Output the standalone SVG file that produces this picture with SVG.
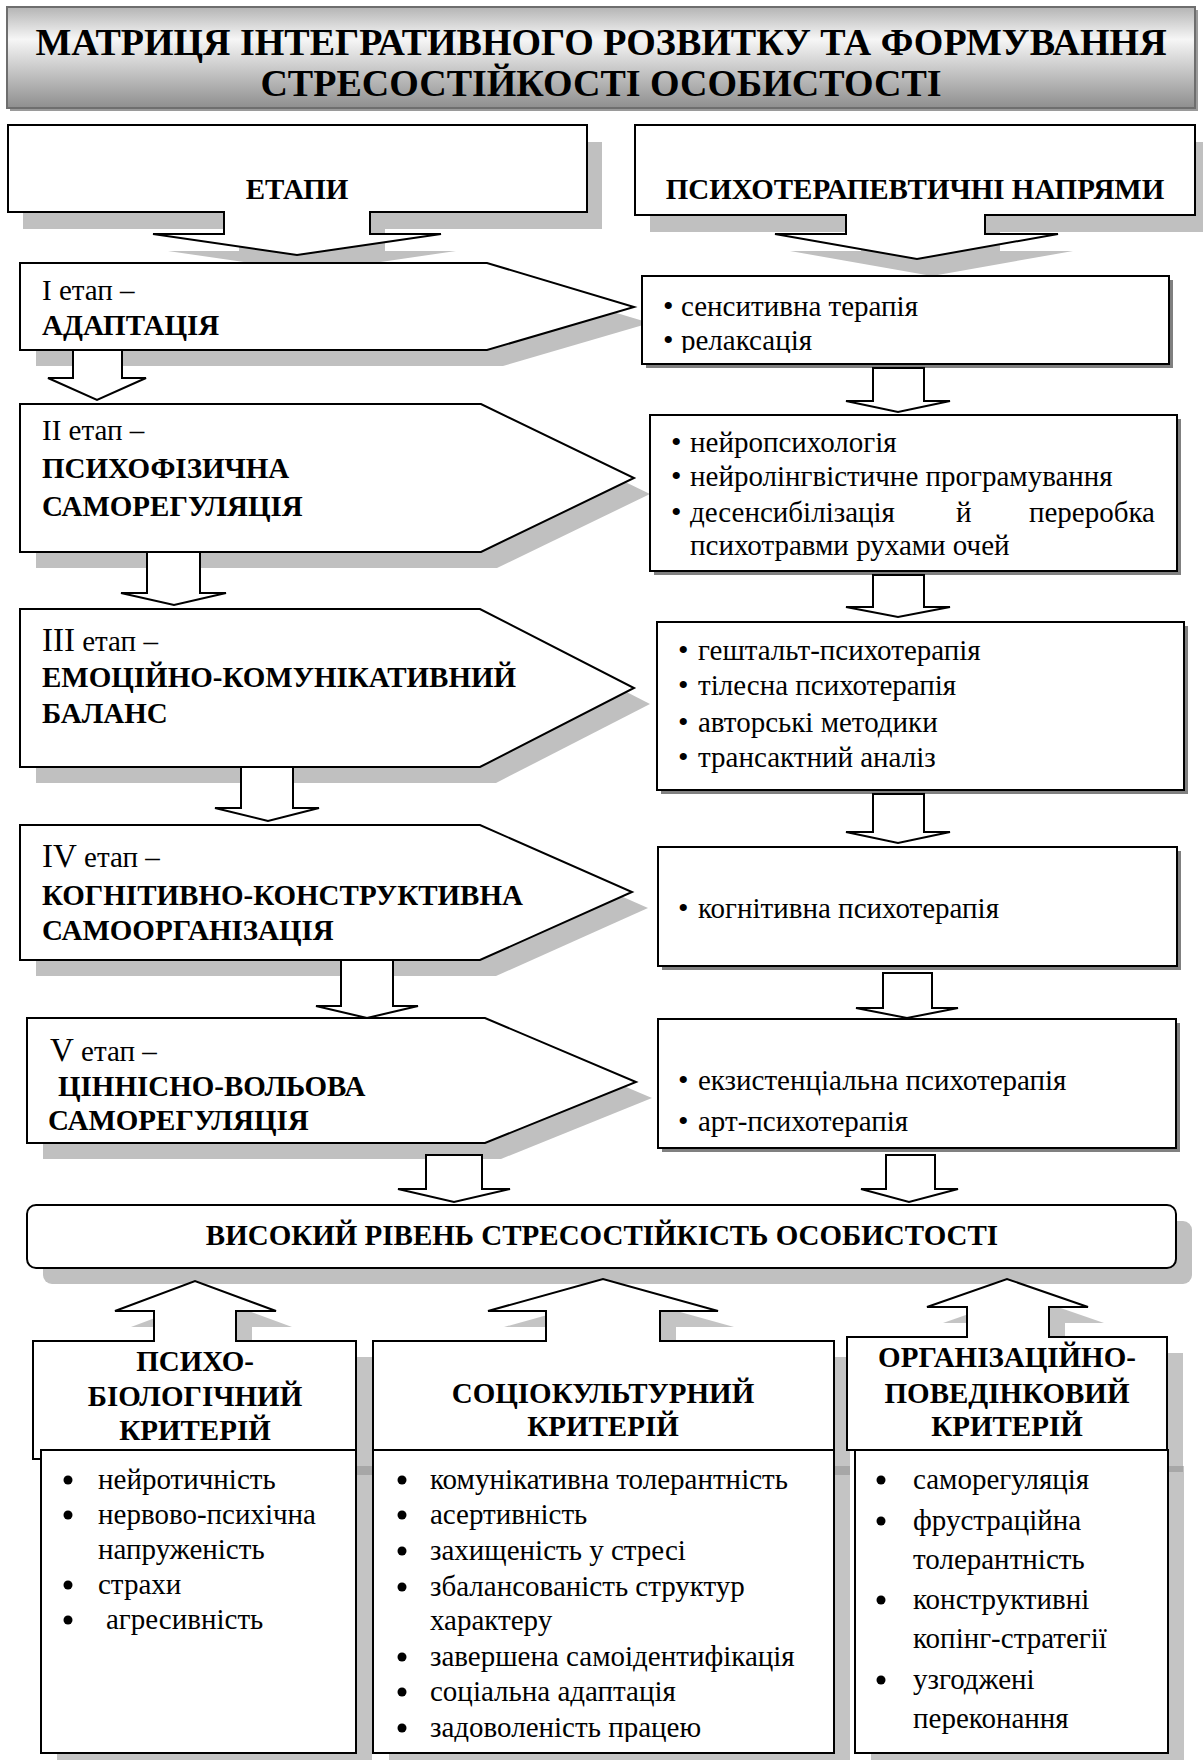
<svg xmlns="http://www.w3.org/2000/svg" width="1203" height="1760" viewBox="0 0 1203 1760">
<defs>
<style>
.sh{fill:#c0c0c0}
.shc{fill:#8a8a8a;opacity:0.5}
.sd{fill:#808080}
.w{fill:#fff;stroke:#000;stroke-width:2;stroke-linejoin:miter}
.t{font-family:"Liberation Serif","Times New Roman",serif;font-size:29px;fill:#000}
.b{font-weight:bold}
.m{text-anchor:middle}
.e{text-anchor:end}
.bl{font-family:"Liberation Serif","Times New Roman",serif;font-size:30px;fill:#000}
.dot{fill:#000}
</style>
<linearGradient id="tg" x1="0" y1="0" x2="0" y2="1">
<stop offset="0" stop-color="#b4b4b4"/>
<stop offset="0.32" stop-color="#f6f6f6"/>
<stop offset="1" stop-color="#8e8e8e"/>
</linearGradient>
<clipPath id="c1"><rect x="642" y="276" width="527" height="77"/></clipPath>
<clipPath id="c2"><rect x="373" y="1450" width="461" height="292"/></clipPath>
</defs>

<!-- Title -->
<g id="title">
<rect x="10" y="10" width="1188" height="101" fill="#9a9a9a"/>
<rect x="7" y="7" width="1188" height="101" fill="url(#tg)" stroke="#6e6e6e" stroke-width="2"/>
<text class="t b m" x="601" y="55" style="font-size:38px">МАТРИЦЯ ІНТЕГРАТИВНОГО РОЗВИТКУ ТА ФОРМУВАННЯ</text>
<text class="t b m" x="601" y="96" style="font-size:38px">СТРЕСОСТІЙКОСТІ ОСОБИСТОСТІ</text>
</g>

<!-- Shadows -->
<g id="shadows">
<path class="sh" transform="translate(15,17)" d="M8,125 H587 V212 H370 V234 H441 L297,255 L153,234 H224 V212 H8 Z"/>
<path class="sh" transform="translate(15,17)" d="M635,125 H1195 V215 H985 V234 H1058 L917,259 L775,234 H846 V215 H635 Z"/>
<path class="sh" transform="translate(16,16)" d="M20,263 H487 L634,307 L487,350 H20 Z"/>
<path class="sh" transform="translate(16,16)" d="M20,404 H481 L634,478 L481,552 H20 Z"/>
<path class="sh" transform="translate(16,16)" d="M20,609 H480 L634,688 L480,767 H20 Z"/>
<path class="sh" transform="translate(16,16)" d="M20,825 H480 L632,892 L480,960 H20 Z"/>
<path class="sh" transform="translate(16,16)" d="M27,1018 H485 L636,1082 L485,1143 H27 Z"/>
<rect class="sd" x="646" y="280" width="527" height="88"/>
<rect class="sd" x="654" y="419" width="527" height="156"/>
<rect class="sd" x="661" y="626" width="527" height="168"/>
<rect class="sd" x="662" y="851" width="519" height="119"/>
<rect class="sd" x="662" y="1023" width="518" height="129"/>
<rect class="sh" x="43" y="1221" width="1149" height="63" rx="9"/>
<path class="shc" transform="translate(16,16)" d="M33,1341 H154 V1311 H115 L195,1281 L276,1311 H236 V1341 H356 V1459 H33 Z"/>
<path class="shc" transform="translate(16,16)" d="M373,1341 H546 V1311 H488 L603,1279 L718,1311 H660 V1341 H834 V1459 H373 Z"/>
<path class="shc" transform="translate(16,16)" d="M847,1337 H967 V1307 H927 L1007,1279 L1088,1307 H1049 V1337 H1167 V1456 H847 Z"/>
<rect class="shc" x="57" y="1466" width="315" height="303"/>
<rect class="shc" x="389" y="1466" width="461" height="303"/>
<rect class="shc" x="871" y="1466" width="313" height="303"/>
</g>

<!-- Connectors (block arrows) -->
<g id="connectors">
<path class="w" d="M73,350 H122 V378 H146 L97,400 L48,378 H73 Z"/>
<path class="w" d="M147,552 H200 V593 H226 L174,605 L121,593 H147 Z"/>
<path class="w" d="M241,767 H293 V808 H319 L268,821 L215,808 H241 Z"/>
<path class="w" d="M341,960 H393 V1006 H418 L367,1018 L316,1006 H341 Z"/>
<path class="w" d="M426,1155 H482 V1189 H510 L454,1202 L398,1189 H426 Z"/>
<path class="w" d="M873,368 H924 V401 H950 L898,412 L846,401 H873 Z"/>
<path class="w" d="M873,575 H924 V607 H950 L898,617 L846,607 H873 Z"/>
<path class="w" d="M873,794 H924 V832 H950 L898,843 L846,832 H873 Z"/>
<path class="w" d="M883,973 H932 V1008 H958 L907,1018 L856,1008 H883 Z"/>
<path class="w" d="M886,1155 H935 V1189 H958 L909,1202 L861,1189 H886 Z"/>
</g>

<!-- Header callouts -->
<g id="etapy">
<path class="w" d="M8,125 H587 V212 H370 V234 H441 L297,255 L153,234 H224 V212 H8 Z"/>
<text class="t b m" x="297" y="199">ЕТАПИ</text>
</g>
<g id="napryamy">
<path class="w" d="M635,125 H1195 V215 H985 V234 H1058 L917,259 L775,234 H846 V215 H635 Z"/>
<text class="t b m" x="915" y="199">ПСИХОТЕРАПЕВТИЧНІ НАПРЯМИ</text>
</g>

<!-- Stages -->
<g id="stage1">
<path class="w" d="M20,263 H487 L634,307 L487,350 H20 Z"/>
<text class="t" x="42" y="300">I етап –</text>
<text class="t b" x="42" y="335">АДАПТАЦІЯ</text>
</g>
<g id="stage2">
<path class="w" d="M20,404 H481 L634,478 L481,552 H20 Z"/>
<text class="t" x="42" y="440">II етап –</text>
<text class="t b" x="42" y="478">ПСИХОФІЗИЧНА</text>
<text class="t b" x="42" y="516">САМОРЕГУЛЯЦІЯ</text>
</g>
<g id="stage3">
<path class="w" d="M20,609 H480 L634,688 L480,767 H20 Z"/>
<text class="t" x="42" y="651"><tspan style="font-size:33px">III</tspan> етап –</text>
<text class="t b" x="42" y="687">ЕМОЦІЙНО-КОМУНІКАТИВНИЙ</text>
<text class="t b" x="42" y="723">БАЛАНС</text>
</g>
<g id="stage4">
<path class="w" d="M20,825 H480 L632,892 L480,960 H20 Z"/>
<text class="t" x="42" y="867"><tspan style="font-size:33px">IV</tspan> етап –</text>
<text class="t b" x="42" y="905">КОГНІТИВНО-КОНСТРУКТИВНА</text>
<text class="t b" x="42" y="940">САМООРГАНІЗАЦІЯ</text>
</g>
<g id="stage5">
<path class="w" d="M27,1018 H485 L636,1082 L485,1143 H27 Z"/>
<text class="t" x="50" y="1061"><tspan style="font-size:33px">V</tspan> етап –</text>
<text class="t b" x="58" y="1096">ЦІННІСНО-ВОЛЬОВА</text>
<text class="t b" x="48" y="1130">САМОРЕГУЛЯЦІЯ</text>
</g>

<!-- Therapy boxes -->
<g id="therapy1">
<rect class="w" x="642" y="276" width="527" height="88"/>
<text class="bl" x="663" y="316">•</text>
<text class="t" x="681" y="316">сенситивна терапія</text>
<g clip-path="url(#c1)">
<text class="bl" x="663" y="350">•</text>
<text class="t" x="681" y="350">релаксація</text>
</g>
</g>
<g id="therapy2">
<rect class="w" x="650" y="415" width="527" height="156"/>
<text class="bl" x="671" y="452">•</text>
<text class="t" x="690" y="452">нейропсихологія</text>
<text class="bl" x="671" y="486">•</text>
<text class="t" x="690" y="486">нейролінгвістичне програмування</text>
<text class="bl" x="671" y="522">•</text>
<text class="t" x="690" y="522">десенсибілізація</text>
<text class="t" x="956" y="522">й</text>
<text class="t e" x="1155" y="522">переробка</text>
<text class="t" x="690" y="555">психотравми рухами очей</text>
</g>
<g id="therapy3">
<rect class="w" x="657" y="622" width="527" height="168"/>
<text class="bl" x="678" y="660">•</text>
<text class="t" x="698" y="660">гештальт-психотерапія</text>
<text class="bl" x="678" y="695">•</text>
<text class="t" x="698" y="695">тілесна психотерапія</text>
<text class="bl" x="678" y="732">•</text>
<text class="t" x="698" y="732">авторські методики</text>
<text class="bl" x="678" y="767">•</text>
<text class="t" x="698" y="767">трансактний аналіз</text>
</g>
<g id="therapy4">
<rect class="w" x="658" y="847" width="519" height="119"/>
<text class="bl" x="678" y="918">•</text>
<text class="t" x="698" y="918">когнітивна психотерапія</text>
</g>
<g id="therapy5">
<rect class="w" x="658" y="1019" width="518" height="129"/>
<text class="bl" x="678" y="1090">•</text>
<text class="t" x="698" y="1090">екзистенціальна психотерапія</text>
<text class="bl" x="678" y="1131">•</text>
<text class="t" x="698" y="1131">арт-психотерапія</text>
</g>

<!-- Result -->
<g id="result">
<rect class="w" x="27" y="1205" width="1149" height="63" rx="9"/>
<text class="t b m" x="602" y="1245">ВИСОКИЙ РІВЕНЬ СТРЕСОСТІЙКІСТЬ ОСОБИСТОСТІ</text>
</g>

<!-- Criteria -->
<g id="crit1">
<path class="w" d="M33,1341 H154 V1311 H115 L195,1281 L276,1311 H236 V1341 H356 V1459 H33 Z"/>
<text class="t b m" x="195" y="1371">ПСИХО-</text>
<text class="t b m" x="195" y="1406">БІОЛОГІЧНИЙ</text>
<text class="t b m" x="195" y="1440">КРИТЕРІЙ</text>
<rect class="w" x="41" y="1450" width="315" height="303"/>
<circle class="dot" cx="68" cy="1480" r="4.5"/><text class="t" x="98" y="1489">нейротичність</text>
<circle class="dot" cx="68" cy="1515" r="4.5"/><text class="t" x="98" y="1524">нервово-психічна</text>
<text class="t" x="98" y="1559">напруженість</text>
<circle class="dot" cx="68" cy="1585" r="4.5"/><text class="t" x="98" y="1594">страхи</text>
<circle class="dot" cx="68" cy="1620" r="4.5"/><text class="t" x="106" y="1629">агресивність</text>
</g>
<g id="crit2">
<path class="w" d="M373,1341 H546 V1311 H488 L603,1279 L718,1311 H660 V1341 H834 V1459 H373 Z"/>
<text class="t b m" x="603" y="1403">СОЦІОКУЛЬТУРНИЙ</text>
<text class="t b m" x="603" y="1436">КРИТЕРІЙ</text>
<rect class="w" x="373" y="1450" width="461" height="303"/>
<circle class="dot" cx="402" cy="1480" r="4.5"/><text class="t" x="430" y="1489">комунікативна толерантність</text>
<circle class="dot" cx="402" cy="1515" r="4.5"/><text class="t" x="430" y="1524">асертивність</text>
<circle class="dot" cx="402" cy="1551" r="4.5"/><text class="t" x="430" y="1560">захищеність у стресі</text>
<circle class="dot" cx="402" cy="1587" r="4.5"/><text class="t" x="430" y="1596">збалансованість структур</text>
<text class="t" x="430" y="1630">характеру</text>
<circle class="dot" cx="402" cy="1657" r="4.5"/><text class="t" x="430" y="1666">завершена самоідентифікація</text>
<circle class="dot" cx="402" cy="1692" r="4.5"/><text class="t" x="430" y="1701">соціальна адаптація</text>
<circle class="dot" cx="402" cy="1728" r="4.5"/>
<g clip-path="url(#c2)"><text class="t" x="430" y="1737">задоволеність працею</text></g>
</g>
<g id="crit3">
<path class="w" d="M847,1337 H967 V1307 H927 L1007,1279 L1088,1307 H1049 V1337 H1167 V1450 H847 Z"/>
<text class="t b m" x="1007" y="1367">ОРГАНІЗАЦІЙНО-</text>
<text class="t b m" x="1007" y="1403">ПОВЕДІНКОВИЙ</text>
<text class="t b m" x="1007" y="1436">КРИТЕРІЙ</text>
<rect class="w" x="855" y="1450" width="313" height="303"/>
<circle class="dot" cx="881" cy="1480" r="4.5"/><text class="t" x="913" y="1489">саморегуляція</text>
<circle class="dot" cx="881" cy="1521" r="4.5"/><text class="t" x="913" y="1530">фрустраційна</text>
<text class="t" x="913" y="1569">толерантність</text>
<circle class="dot" cx="881" cy="1600" r="4.5"/><text class="t" x="913" y="1609">конструктивні</text>
<text class="t" x="913" y="1648">копінг-стратегії</text>
<circle class="dot" cx="881" cy="1680" r="4.5"/><text class="t" x="913" y="1689">узгоджені</text>
<text class="t" x="913" y="1728">переконання</text>
</g>
</svg>
